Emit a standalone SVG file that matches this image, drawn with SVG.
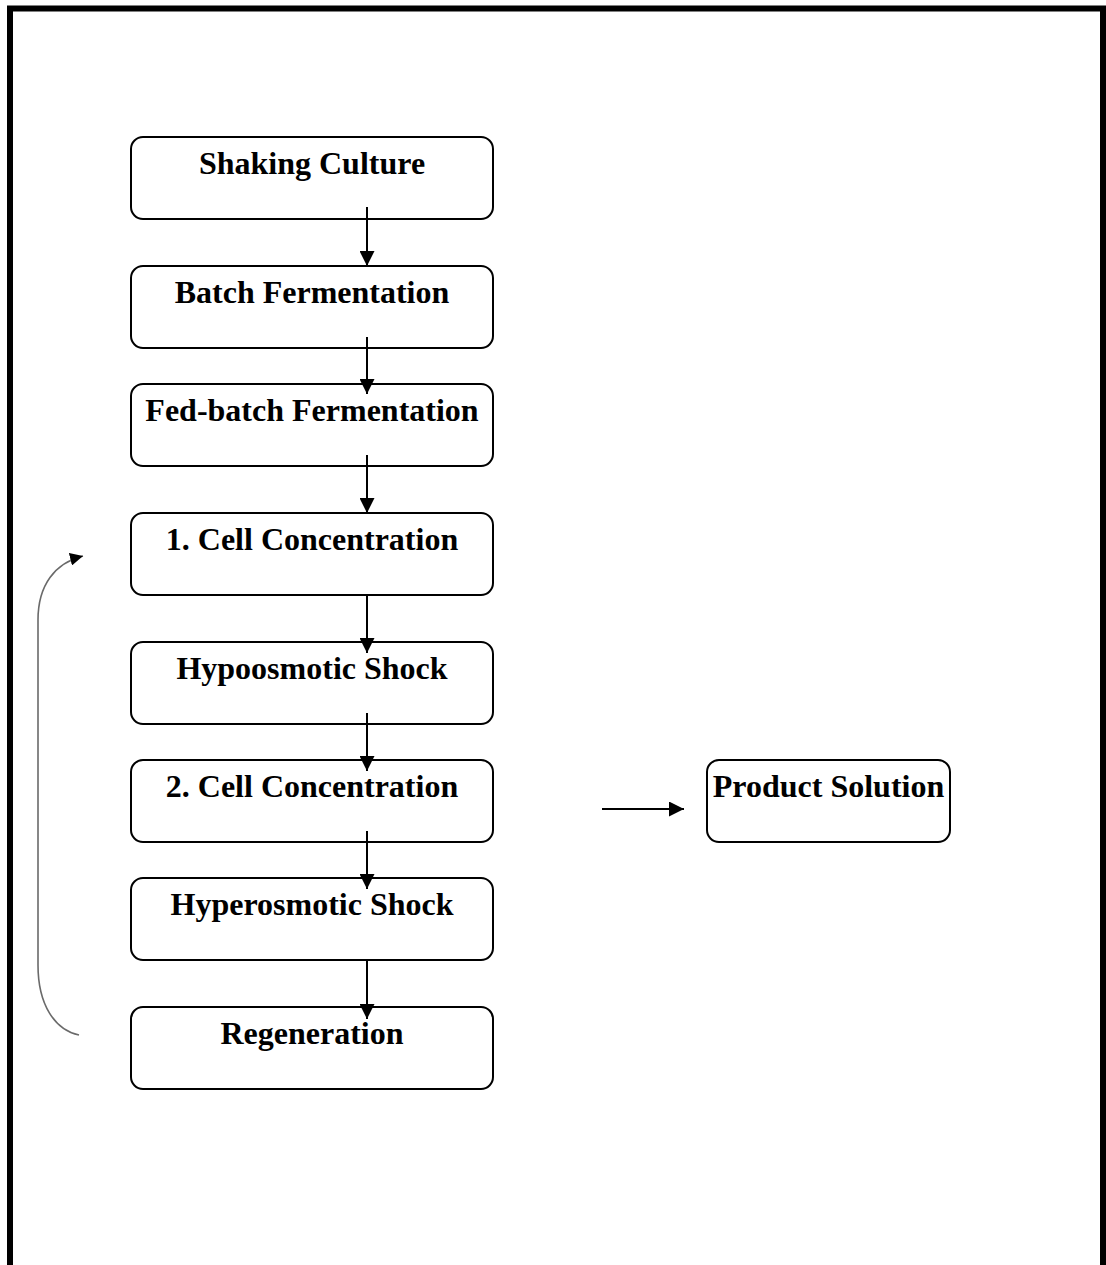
<svg xmlns="http://www.w3.org/2000/svg" width="1106" height="1265" viewBox="0 0 1106 1265">
<style>
.box{fill:#fff;stroke:#000;stroke-width:2}
.lbl{font-family:"Liberation Serif","Times New Roman",serif;font-weight:bold;font-size:32px;fill:#000;text-anchor:middle}
.arr{stroke:#000;stroke-width:2;fill:none}
</style>
<defs>
<marker id="ah" viewBox="0 0 10 10" refX="10" refY="5" markerWidth="13" markerHeight="13" markerUnits="userSpaceOnUse" orient="auto"><path d="M0,0 L10,5 L0,10 z" fill="#000"/></marker>
<marker id="ah2" viewBox="0 0 10 10" refX="10" refY="5" markerWidth="15" markerHeight="15" markerUnits="userSpaceOnUse" orient="auto"><path d="M0,0 L10,5 L0,10 z" fill="#000"/></marker>
</defs>
<rect x="0" y="0" width="1106" height="1265" fill="#fff"/>
<rect x="10" y="8.5" width="1093" height="1300" fill="none" stroke="#000" stroke-width="6"/>
<g id="n1"><rect class="box" x="131" y="137" width="362" height="82" rx="12"/><text class="lbl" x="312" y="174">Shaking Culture</text></g>
<g id="n2"><rect class="box" x="131" y="266" width="362" height="82" rx="12"/><text class="lbl" x="312" y="303">Batch Fermentation</text></g>
<g id="n3"><rect class="box" x="131" y="384" width="362" height="82" rx="12"/><text class="lbl" x="312" y="421">Fed-batch Fermentation</text></g>
<g id="n4"><rect class="box" x="131" y="513" width="362" height="82" rx="12"/><text class="lbl" x="312" y="550">1. Cell Concentration</text></g>
<g id="n5"><rect class="box" x="131" y="642" width="362" height="82" rx="12"/><text class="lbl" x="312" y="679">Hypoosmotic Shock</text></g>
<g id="n6"><rect class="box" x="131" y="760" width="362" height="82" rx="12"/><text class="lbl" x="312" y="797">2. Cell Concentration</text></g>
<g id="n7"><rect class="box" x="131" y="878" width="362" height="82" rx="12"/><text class="lbl" x="312" y="915">Hyperosmotic Shock</text></g>
<g id="n8"><rect class="box" x="131" y="1007" width="362" height="82" rx="12"/><text class="lbl" x="312" y="1044">Regeneration</text></g>
<g id="n9"><rect class="box" x="707" y="760" width="243" height="82" rx="12"/><text class="lbl" x="828.5" y="797">Product Solution</text></g>
<g id="connectors">
<line class="arr" marker-end="url(#ah2)" x1="367" y1="207" x2="367" y2="266"/>
<line class="arr" marker-end="url(#ah2)" x1="367" y1="337" x2="367" y2="394"/>
<line class="arr" marker-end="url(#ah2)" x1="367" y1="455" x2="367" y2="513"/>
<line class="arr" marker-end="url(#ah2)" x1="367" y1="595" x2="367" y2="653"/>
<line class="arr" marker-end="url(#ah2)" x1="367" y1="713" x2="367" y2="771"/>
<line class="arr" marker-end="url(#ah2)" x1="367" y1="831" x2="367" y2="889"/>
<line class="arr" marker-end="url(#ah2)" x1="367" y1="960" x2="367" y2="1019"/>
<line class="arr" marker-end="url(#ah2)" x1="602" y1="809" x2="684" y2="809"/>
<path d="M79,1035 C55,1030 38,1005 38,965 L38,620 C38,585 55,563 83,556" fill="none" stroke="#6a6a6a" stroke-width="1.6" marker-end="url(#ah)"/>
</g>
</svg>
